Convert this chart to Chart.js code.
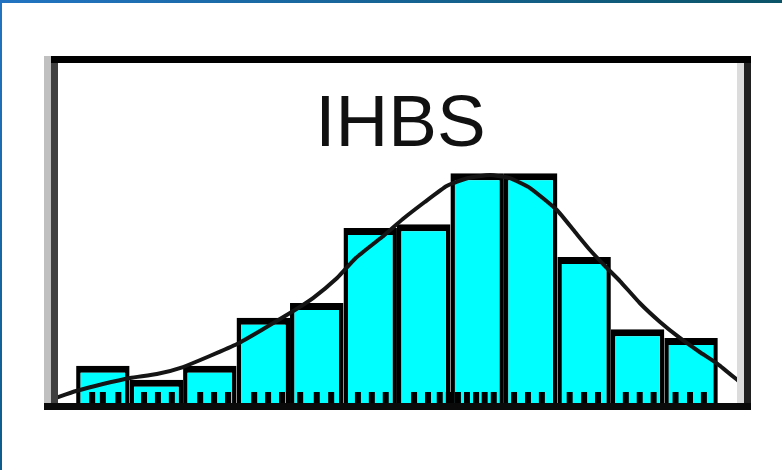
<!DOCTYPE html>
<html>
<head>
<meta charset="utf-8">
<script src="https://cdn.jsdelivr.net/npm/chart.js@4/dist/chart.umd.min.js"></script>
<style>
  html, body { margin: 0; padding: 0; background: #ffffff; }
  #wrap { width: 782px; height: 470px; position: relative; }
  canvas { display: block; }
</style>
</head>
<body>
<div id="wrap"><canvas id="c" width="782" height="470"></canvas></div>
<script>
// ---- data ----
const chartTitle = "IHBS";
// histogram bins (bin index units), centres and heights
const binCenters = [0.5, 1.5, 2.5, 3.5, 4.5, 5.5, 6.5, 7.5, 8.5, 9.5, 10.5, 11.5];
const binHeights = [5.5, 3.6, 5.5, 12.1, 14.1, 24.4, 24.9, 31.9, 31.9, 20.4, 10.5, 9.3];
// fitted density curve
const curveX = [-0.39, 0.00, 0.50, 1.01, 1.51, 2.00, 2.50, 3.01, 3.50, 4.00, 4.43, 4.88, 5.23, 5.72, 6.11, 6.52, 6.93, 7.33, 7.74, 8.11, 8.49, 8.99, 9.33, 9.61, 9.89, 10.17, 10.54, 10.92, 11.29, 11.66, 12.00, 12.41];
const curveY = [1.10, 2.05, 3.01, 3.84, 4.38, 5.34, 6.85, 8.49, 10.55, 12.74, 14.79, 17.53, 20.27, 23.15, 25.62, 27.95, 30.14, 31.23, 31.64, 31.23, 29.86, 26.85, 23.84, 21.37, 19.18, 17.12, 14.11, 11.51, 9.32, 7.40, 5.75, 3.29];
// rug of observations
const rugValues = [0.30, 0.50, 0.79, 1.27, 1.53, 1.79, 2.32, 2.58, 2.84, 3.33, 3.59, 3.85, 4.19, 4.50, 4.77, 5.27, 5.53, 5.79, 6.32, 6.58, 6.80, 6.97, 7.14, 7.31, 7.48, 7.64, 7.81, 8.19, 8.45, 8.71, 9.23, 9.50, 9.76, 10.28, 10.54, 10.80, 11.21, 11.48, 11.74];
const xRange = [-0.47, 12.49];
const yRange = [0, 47.4];

const barData = binCenters.map((x, i) => ({ x: x, y: binHeights[i] }));
const curveData = curveX.map((x, i) => ({ x: x, y: curveY[i] }));

const decor = {
  id: 'decor',
  beforeDraw(chart) {
    const ctx = chart.ctx;
    ctx.save();
    // outer blue border (top + left)
    const gTop = ctx.createLinearGradient(0, 0, chart.width, 0);
    gTop.addColorStop(0, '#2274c2');
    gTop.addColorStop(1, '#0b5468');
    ctx.fillStyle = gTop;
    ctx.fillRect(0, 0, chart.width, 3);
    const gLeft = ctx.createLinearGradient(0, 0, 0, chart.height);
    gLeft.addColorStop(0, '#2274c2');
    gLeft.addColorStop(1, '#0d5c8c');
    ctx.fillStyle = gLeft;
    ctx.fillRect(0, 0, 2, chart.height);
    // title
    const a = chart.chartArea;
    ctx.fillStyle = '#111111';
    ctx.font = '73px "Liberation Sans", Arial, sans-serif';
    ctx.textAlign = 'center';
    ctx.textBaseline = 'alphabetic';
    ctx.fillText(chartTitle, (a.left + a.right) / 2 + 3, a.top + 86);
    ctx.restore();
  },
  afterDatasetsDraw(chart) {
    const ctx = chart.ctx;
    const a = chart.chartArea;
    const xs = chart.scales.x;
    ctx.save();
    // rug marks
    ctx.strokeStyle = '#000000';
    ctx.lineWidth = 6;
    rugValues.forEach(v => {
      const px = xs.getPixelForValue(v);
      ctx.beginPath();
      ctx.moveTo(px, a.bottom - 14);
      ctx.lineTo(px, a.bottom);
      ctx.stroke();
    });
    // frame
    ctx.fillStyle = '#c0c0c0';
    ctx.fillRect(a.left - 7, a.top - 4, 7, a.bottom - a.top + 8);
    ctx.fillStyle = '#404040';
    ctx.fillRect(a.left, a.top - 4, 7, a.bottom - a.top + 8);
    ctx.fillStyle = '#dcdcdc';
    ctx.fillRect(a.right - 7, a.top - 4, 7, a.bottom - a.top + 8);
    ctx.fillStyle = '#202020';
    ctx.fillRect(a.right, a.top - 4, 7, a.bottom - a.top + 8);
    ctx.fillStyle = '#000000';
    ctx.fillRect(a.left, a.top - 4, a.right - a.left + 7, 7);
    ctx.fillStyle = '#0a0a0a';
    ctx.fillRect(a.left - 7, a.bottom - 3, a.right - a.left + 14, 7);
    ctx.restore();
  }
};

new Chart(document.getElementById('c'), {
  type: 'bar',
  data: {
    datasets: [
      {
        type: 'line',
        data: curveData,
        borderColor: '#151515',
        borderWidth: 4,
        pointRadius: 0,
        fill: false,
        tension: 0.15,
        order: 0
      },
      {
        type: 'bar',
        data: barData,
        backgroundColor: '#00ffff',
        borderColor: '#000000',
        borderWidth: { top: 7, left: 4.5, right: 4.5, bottom: 0 },
        borderSkipped: false,
        barPercentage: 1,
        categoryPercentage: 1,
        inflateAmount: 0,
        order: 1
      }
    ]
  },
  options: {
    responsive: false,
    animation: false,
    devicePixelRatio: 1,
    layout: { padding: { left: 51, right: 38, top: 60, bottom: 64 } },
    plugins: { legend: { display: false }, tooltip: { enabled: false }, title: { display: false } },
    scales: {
      x: { type: 'linear', display: false, offset: false, min: xRange[0], max: xRange[1], ticks: { stepSize: 100 } },
      y: { type: 'linear', display: false, min: yRange[0], max: yRange[1], ticks: { stepSize: 100 } }
    }
  },
  plugins: [decor]
});
</script>
</body>
</html>
